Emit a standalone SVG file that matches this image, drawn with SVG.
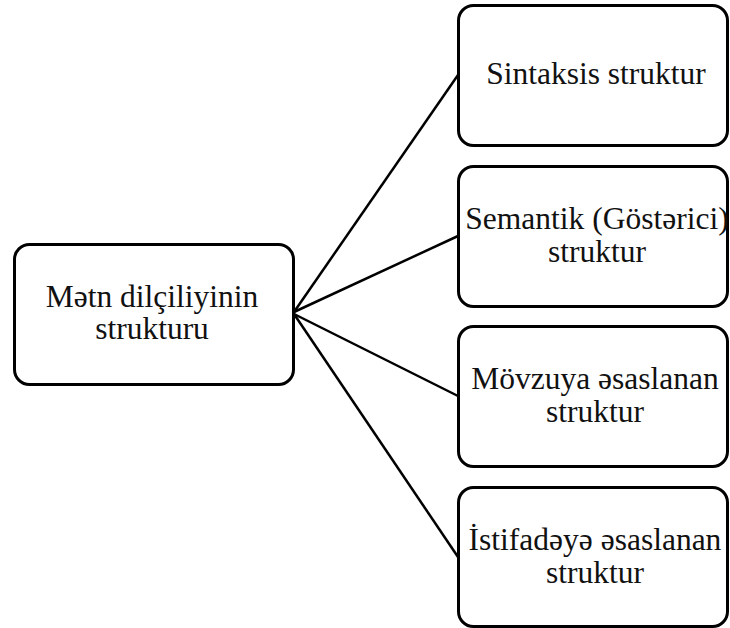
<svg xmlns="http://www.w3.org/2000/svg" width="730" height="628" viewBox="0 0 730 628">
<style>
.box{fill:#fff;stroke:#000;stroke-width:3}
.t{font-size:31.5px;fill:#111;text-anchor:middle}
.c{stroke:#000;stroke-width:2.5;fill:none}
</style>
<rect width="730" height="628" fill="#fff"/>
<g id="connectors">
<line class="c" x1="294" y1="312" x2="458" y2="75"/>
<line class="c" x1="294" y1="312" x2="458" y2="236"/>
<line class="c" x1="294" y1="314" x2="458" y2="396"/>
<line class="c" x1="294" y1="314" x2="458" y2="557"/>
</g>
<g font-family="Liberation Serif, DejaVu Serif, serif">
<g id="root">
<rect class="box" x="14.5" y="244.5" width="279" height="140" rx="15"/>
<text class="t" x="152" y="307">Mətn dilçiliyinin</text>
<text class="t" x="152" y="339">strukturu</text>
</g>
<g id="n1">
<rect class="box" x="458.5" y="5.5" width="269" height="140" rx="15"/>
<text class="t" x="596" y="84">Sintaksis struktur</text>
</g>
<g id="n2">
<rect class="box" x="458.5" y="166.5" width="269" height="140" rx="15"/>
<text class="t" x="597" y="229">Semantik (Göstərici)</text>
<text class="t" x="597" y="262">struktur</text>
</g>
<g id="n3">
<rect class="box" x="458.5" y="326.5" width="269" height="140" rx="15"/>
<text class="t" x="595" y="389">Mövzuya əsaslanan</text>
<text class="t" x="595" y="422">struktur</text>
</g>
<g id="n4">
<rect class="box" x="458.5" y="487.5" width="269" height="139" rx="15"/>
<text class="t" x="595" y="550">İstifadəyə əsaslanan</text>
<text class="t" x="595" y="583">struktur</text>
</g>
</g>
</svg>
